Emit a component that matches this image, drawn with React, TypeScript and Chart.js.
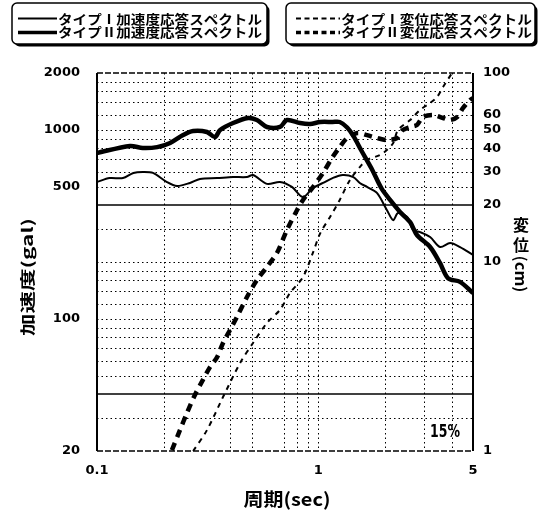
import React, { useEffect, useRef } from "react";
import { Chart, registerables } from "chart.js";

Chart.register(...registerables);

// ---- Data (period in sec, acceleration in gal, displacement in cm) ----
const accelIPeriods = [0.1, 0.114, 0.131, 0.146, 0.161, 0.179, 0.207, 0.23, 0.263, 0.292, 0.349, 0.412, 0.476, 0.507, 0.586, 0.671, 0.76, 0.853, 0.946, 1.05, 1.16, 1.29, 1.44, 1.54, 1.66, 1.84, 2.04, 2.18, 2.29, 2.52, 2.68, 2.88, 3.2, 3.55, 3.94, 4.37, 5.0];
const accelIValues = [530, 556, 556, 592, 599, 592, 530, 505, 524, 550, 556, 563, 563, 577, 518, 530, 499, 441, 493, 524, 556, 577, 563, 524, 499, 464, 377, 333, 363, 346, 295, 288, 271, 240, 252, 240, 218];

const accelIIPeriods = [0.1, 0.141, 0.161, 0.187, 0.214, 0.245, 0.272, 0.314, 0.341, 0.36, 0.412, 0.481, 0.528, 0.586, 0.671, 0.722, 0.827, 0.918, 1.02, 1.16, 1.25, 1.35, 1.44, 1.56, 1.74, 1.93, 2.11, 2.34, 2.6, 2.79, 3.2, 3.55, 3.86, 4.37, 5.0];
const accelIIValues = [755, 822, 802, 811, 853, 940, 987, 975, 917, 998, 1087, 1156, 1127, 1036, 1036, 1127, 1087, 1075, 1101, 1101, 1101, 1030, 930, 783, 625, 490, 426, 368, 325, 278, 240, 197, 164, 157, 137];

const dispIPeriods = [0.272, 0.314, 0.371, 0.443, 0.507, 0.586, 0.671, 0.745, 0.853, 0.946, 1.02, 1.13, 1.25, 1.39, 1.54, 1.66, 1.9, 2.04, 2.18, 2.29, 2.6, 2.88, 3.2, 3.44, 3.66, 4.02];
const dispIValues = [1.0, 1.29, 1.93, 2.92, 3.73, 4.76, 5.58, 6.86, 8.33, 11.2, 14.2, 17.3, 21.3, 27.2, 31.8, 34.7, 36.8, 39.1, 42.6, 49.9, 56.4, 63.7, 69.4, 74.7, 84.3, 100];

const dispIIPeriods = [0.218, 0.237, 0.255, 0.277, 0.301, 0.324, 0.349, 0.371, 0.399, 0.429, 0.476, 0.528, 0.586, 0.651, 0.722, 0.801, 0.853, 0.946, 1.05, 1.16, 1.25, 1.35, 1.5, 1.66, 1.84, 2.04, 2.27, 2.41, 2.6, 2.79, 2.97, 3.3, 3.66, 3.94, 4.24, 4.51, 4.85, 5.0];
const dispIIValues = [1.01, 1.29, 1.59, 1.98, 2.38, 2.78, 3.14, 3.73, 4.37, 5.12, 6.53, 8.03, 9.42, 11.2, 14.8, 18.8, 21.3, 24.9, 29.6, 35.9, 40.6, 45.3, 48.1, 46.9, 45.3, 44.2, 45.3, 49.9, 51.8, 53.1, 58.5, 60.0, 57.8, 56.4, 58.5, 65.3, 72.0, 73.7];

// ---- Ticks / grid ----
const xTickValues = [0.1, 1, 5];
const xTickLabels = ["0.1", "1", "5"];
const accelTickValues = [20, 100, 500, 1000, 2000];
const dispTickValues = [1, 10, 20, 30, 40, 50, 60, 100];
const xGridValues = [0.2, 0.4, 0.5, 0.7, 0.8, 0.9, 1, 2, 3, 4];
const accelGridValues = [30, 50, 60, 70, 80, 90, 100, 120, 140, 160, 180, 200, 300, 500, 600, 700, 800, 900, 1000, 1200, 1400, 1600, 1800];
const accelSolidValues = [40, 400];

const legendLabels = [
  "タイプⅠ加速度応答スペクトル",
  "タイプⅡ加速度応答スペクトル",
  "タイプⅠ変位応答スペクトル",
  "タイプⅡ変位応答スペクトル",
];
const xTitle = "周期(sec)";
const yLeftTitle = "加速度(gal)";
const yRightTitleCJK = ["変", "位"];
const yRightTitleUnit = "(cm)";
const dampingLabel = "15%";

const CJK = "'Noto Sans CJK JP', 'Noto Sans CJK SC', sans-serif";
const LATIN = "'DejaVu Sans', 'Liberation Sans', Arial, sans-serif";

function drawFitted(
  ctx: CanvasRenderingContext2D,
  text: string,
  cx: number,
  cy: number,
  font: string,
  targetW: number | null,
  rot = 0,
  sy = 1
) {
  ctx.save();
  ctx.font = font;
  const w = ctx.measureText(text).width;
  ctx.translate(cx, cy);
  ctx.rotate(rot);
  ctx.scale(targetW ? targetW / w : 1, sy);
  ctx.textAlign = "center";
  ctx.textBaseline = "middle";
  ctx.fillStyle = "#000";
  ctx.fillText(text, 0, 0);
  ctx.restore();
}

function legendBox(ctx: CanvasRenderingContext2D, l: number, t: number, r: number, b: number) {
  ctx.save();
  ctx.fillStyle = "#000";
  ctx.beginPath();
  (ctx as any).roundRect(l + 2.5, t + 2.5, r - l, b - t, 5);
  ctx.fill();
  ctx.fillStyle = "#fff";
  ctx.strokeStyle = "#000";
  ctx.lineWidth = 1.5;
  ctx.beginPath();
  (ctx as any).roundRect(l, t, r - l, b - t, 5);
  ctx.fill();
  ctx.stroke();
  ctx.restore();
}

function hline(ctx: CanvasRenderingContext2D, x1: number, x2: number, y: number) {
  ctx.beginPath();
  ctx.moveTo(x1, y);
  ctx.lineTo(x2, y);
  ctx.stroke();
}
function vline(ctx: CanvasRenderingContext2D, x: number, y1: number, y2: number) {
  ctx.beginPath();
  ctx.moveTo(x, y1);
  ctx.lineTo(x, y2);
  ctx.stroke();
}

const decorPlugin = {
  id: "decor",
  beforeDatasetsDraw(chart: any) {
    const { ctx, chartArea: ca, scales } = chart;
    const x = scales.x;
    const yL = scales.yL;
    ctx.save();
    ctx.strokeStyle = "#000";
    ctx.lineWidth = 1;
    ctx.setLineDash([1.5, 3]);
    for (const v of xGridValues) {
      const px = Math.round(x.getPixelForValue(v)) + 0.5;
      vline(ctx, px, ca.top, ca.bottom);
    }
    for (const v of accelGridValues) {
      const py = Math.round(yL.getPixelForValue(v)) + 0.5;
      hline(ctx, ca.left, ca.right, py);
    }
    ctx.setLineDash([]);
    ctx.lineWidth = 1.6;
    for (const v of accelSolidValues) {
      const py = Math.round(yL.getPixelForValue(v));
      hline(ctx, ca.left, ca.right, py);
    }
    // frame
    ctx.lineWidth = 2;
    vline(ctx, ca.left, ca.top, ca.bottom);
    vline(ctx, ca.right, ca.top, ca.bottom);
    ctx.lineWidth = 1.5;
    ctx.setLineDash([6, 2]);
    hline(ctx, ca.left, ca.right, ca.top);
    hline(ctx, ca.left, ca.right, ca.bottom);
    ctx.restore();
  },
  afterDraw(chart: any) {
    const { ctx } = chart;
    // axis titles
    drawFitted(ctx, yLeftTitle, 27, 277, `bold 15px ${CJK}`, 118, -Math.PI / 2, 1);
    drawFitted(ctx, xTitle, 287, 499, `bold 18px ${CJK}`, 87, 0, 1);
    drawFitted(ctx, yRightTitleCJK[0], 521, 225, `bold 16px ${CJK}`, null, 0, 1);
    drawFitted(ctx, yRightTitleCJK[1], 521, 245, `bold 16px ${CJK}`, null, 0, 1);
    drawFitted(ctx, yRightTitleUnit, 521, 274, `bold 15px ${CJK}`, 37, Math.PI / 2, 1);
    // damping label
    drawFitted(ctx, dampingLabel, 445, 433, `bold 17px ${LATIN}`, 30, 0, 1);

    // legend boxes
    legendBox(ctx, 12, 3, 267, 44);
    legendBox(ctx, 286, 3, 535, 44);
    ctx.save();
    ctx.strokeStyle = "#000";
    ctx.lineWidth = 2;
    hline(ctx, 18, 57, 18.5);
    ctx.lineWidth = 3.5;
    hline(ctx, 18, 57, 32.5);
    ctx.lineWidth = 2;
    ctx.setLineDash([5, 3.5]);
    hline(ctx, 296, 340, 18.5);
    ctx.lineWidth = 3.5;
    hline(ctx, 296, 340, 32.5);
    ctx.restore();
    const lf = `bold 13px ${CJK}`;
    drawFitted(ctx, legendLabels[0], 58 + 102, 19, lf, 204, 0, 1);
    drawFitted(ctx, legendLabels[1], 58 + 102, 32.5, lf, 204, 0, 1);
    drawFitted(ctx, legendLabels[2], 341 + 95.5, 19, lf, 191, 0, 1);
    drawFitted(ctx, legendLabels[3], 341 + 95.5, 32.5, lf, 191, 0, 1);
  },
};

const toPts = (xs: number[], ys: number[]) => xs.map((x, i) => ({ x, y: ys[i] }));

const tickFont = { family: LATIN, size: 13, weight: "bold" as const };

export default function App() {
  const ref = useRef<HTMLCanvasElement | null>(null);
  useEffect(() => {
    if (!ref.current) return;
    const chart = new Chart(ref.current, {
      type: "line",
      data: {
        datasets: [
          {
            label: legendLabels[0],
            data: toPts(accelIPeriods, accelIValues),
            yAxisID: "yL",
            borderColor: "#000",
            borderWidth: 2,
            pointRadius: 0,
            tension: 0.3,
            fill: false,
          },
          {
            label: legendLabels[1],
            data: toPts(accelIIPeriods, accelIIValues),
            yAxisID: "yL",
            borderColor: "#000",
            borderWidth: 4.5,
            pointRadius: 0,
            tension: 0.3,
            fill: false,
          },
          {
            label: legendLabels[2],
            data: toPts(dispIPeriods, dispIValues),
            yAxisID: "yR",
            borderColor: "#000",
            borderWidth: 2,
            borderDash: [5, 5],
            pointRadius: 0,
            tension: 0.3,
            fill: false,
          },
          {
            label: legendLabels[3],
            data: toPts(dispIIPeriods, dispIIValues),
            yAxisID: "yR",
            borderColor: "#000",
            borderWidth: 4.5,
            borderDash: [8, 6],
            pointRadius: 0,
            tension: 0.3,
            fill: false,
          },
        ],
      },
      options: {
        responsive: false,
        animation: false,
        layout: { padding: { top: 73, left: 0, right: 0, bottom: 0 } },
        plugins: {
          legend: { display: false },
          tooltip: { enabled: false },
          title: { display: false },
        },
        scales: {
          x: {
            type: "logarithmic",
            min: 0.1,
            max: 5,
            grid: { display: false, drawTicks: false },
            border: { display: false },
            ticks: {
              autoSkip: false,
              maxRotation: 0,
              padding: 12,
              color: "#000",
              font: tickFont,
              callback: (v: any) => {
                const i = xTickValues.indexOf(Number(v));
                return i >= 0 ? xTickLabels[i] : "";
              },
            },
            afterBuildTicks: (s: any) => {
              s.ticks = xTickValues.map((v) => ({ value: v }));
            },
            afterFit: (s: any) => {
              s.height = 62;
            },
          },
          yL: {
            type: "logarithmic",
            position: "left",
            min: 20,
            max: 2000,
            grid: { display: false, drawTicks: false },
            border: { display: false },
            ticks: {
              autoSkip: false,
              padding: 17,
              color: "#000",
              font: tickFont,
              callback: (v: any) => String(v),
            },
            afterBuildTicks: (s: any) => {
              s.ticks = accelTickValues.map((v) => ({ value: v }));
            },
            afterFit: (s: any) => {
              s.width = 97;
            },
          },
          yR: {
            type: "logarithmic",
            position: "right",
            min: 1,
            max: 100,
            grid: { display: false, drawTicks: false },
            border: { display: false },
            ticks: {
              autoSkip: false,
              padding: 10,
              color: "#000",
              font: tickFont,
              callback: (v: any) => String(v),
            },
            afterBuildTicks: (s: any) => {
              s.ticks = dispTickValues.map((v) => ({ value: v }));
            },
            afterFit: (s: any) => {
              s.width = 72;
            },
          },
        },
      } as any,
      plugins: [decorPlugin],
    });
    return () => chart.destroy();
  }, []);

  return (
    <div style={{ position: "absolute", left: 0, top: 0, width: 545, height: 513, background: "#fff" }}>
      <canvas ref={ref} width={545} height={513} style={{ display: "block" }} />
    </div>
  );
}
